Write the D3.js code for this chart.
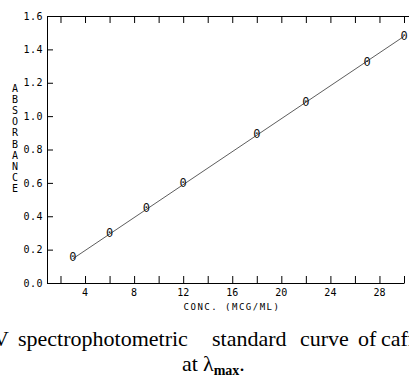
<!DOCTYPE html>
<html>
<head>
<meta charset="utf-8">
<script src="https://cdn.jsdelivr.net/npm/d3@7"></script>
<style>
  body { margin: 0; background: #fff; }
  svg { display: block; }
</style>
</head>
<body>
<svg id="chart" width="409" height="379"></svg>
<script>
// values
const conc = [3, 6, 9, 12, 18, 22, 27, 30];
const absorbance = [0.155, 0.30, 0.45, 0.60, 0.89, 1.085, 1.325, 1.48];
const fitConc = [3, 30];
const fitAbs = [0.145, 1.478];
const xTicks = [2, 4, 6, 8, 10, 12, 14, 16, 18, 20, 22, 24, 26, 28, 30];
const xLabels = [4, 8, 12, 16, 20, 24, 28];
const yTicks = [0, 0.2, 0.4, 0.6, 0.8, 1.0, 1.2, 1.4, 1.6];

const svg = d3.select('#chart');
const mono = 'DejaVu Sans Mono, monospace';
const serif = 'Liberation Serif, Times New Roman, serif';

const x = d3.scaleLinear().domain([0.9, 30]).range([47, 404]);
const y = d3.scaleLinear().domain([0, 1.6]).range([283, 16]);

// bottom axis
svg.append('g')
  .attr('transform', 'translate(0,' + y(0) + ')')
  .call(d3.axisBottom(x).tickValues(xTicks).tickSizeInner(-7).tickSizeOuter(0).tickFormat(''));
svg.append('g').selectAll('text')
  .data(xLabels)
  .enter().append('text')
  .attr('x', function (d) { return x(d); })
  .attr('y', y(0) + 13)
  .attr('text-anchor', 'middle')
  .style('font-family', mono)
  .style('font-size', '10px')
  .text(function (d) { return d; });

// top axis (frame)
svg.append('g')
  .attr('transform', 'translate(0,' + y(1.6) + ')')
  .call(d3.axisTop(x).tickValues(xTicks).tickSizeInner(-7).tickSizeOuter(0).tickFormat(''));
svg.append('line')
  .attr('x1', x(30)).attr('x2', 409)
  .attr('y1', y(1.6) + 0.5).attr('y2', y(1.6) + 0.5)
  .attr('stroke', '#000');

// left axis
const gy = svg.append('g')
  .attr('transform', 'translate(' + x(0.9) + ',0)')
  .call(d3.axisLeft(y).tickValues(yTicks).tickSizeInner(-6).tickSizeOuter(0).tickFormat(d3.format('.1f')));
gy.selectAll('text')
  .attr('x', -4)
  .style('font-family', mono)
  .style('font-size', '10px')
  .style('letter-spacing', '0.5px');

svg.selectAll('.domain, .tick line').attr('stroke', '#000');

// axis titles
const yTitle = 'ABSORBANCE'.split('');
svg.append('g').selectAll('text')
  .data(yTitle)
  .enter().append('text')
  .attr('x', 15)
  .attr('y', function (d, i) { return 92 + i * 11.1; })
  .attr('text-anchor', 'middle')
  .style('font-family', mono)
  .style('font-size', '10px')
  .text(function (d) { return d; });

svg.append('text')
  .attr('x', 232)
  .attr('y', y(0) + 27)
  .attr('text-anchor', 'middle')
  .style('font-family', mono)
  .style('font-size', '9px')
  .style('letter-spacing', '1.5px')
  .text('CONC. (MCG/ML)');

// fitted line
const line = d3.line()
  .x(function (d) { return x(d[0]); })
  .y(function (d) { return y(d[1]); });
svg.append('path')
  .datum(d3.zip(fitConc, fitAbs))
  .attr('d', line)
  .attr('fill', 'none')
  .attr('stroke', '#333')
  .attr('stroke-width', 0.8);

// point markers
svg.append('g').selectAll('text')
  .data(d3.zip(conc, absorbance))
  .enter().append('text')
  .attr('x', function (d) { return x(d[0]); })
  .attr('y', function (d) { return y(d[1]) + 4; })
  .attr('text-anchor', 'middle')
  .style('font-family', mono)
  .style('font-size', '12px')
  .attr('fill', '#111')
  .text('0');

// figure caption (cropped at the page edges, as in the scan)
const cap = svg.append('text')
  .attr('y', 346)
  .style('font-family', serif)
  .style('font-size', '22px');
cap.append('tspan').attr('x', -23).text('UV');
cap.append('tspan').attr('x', 18).text('spectrophotometric');
cap.append('tspan').attr('x', 212).text('standard');
cap.append('tspan').attr('x', 300).text('curve');
cap.append('tspan').attr('x', 358).text('of');
cap.append('tspan').attr('x', 381).text('caffeine');

const cap2 = svg.append('text')
  .attr('y', 371)
  .style('font-family', serif)
  .style('font-size', '22px');
cap2.append('tspan').attr('x', 182).text('at');
cap2.append('tspan').attr('x', 203).text('\u03bb');
cap2.append('tspan').attr('dy', 4).style('font-size', '14px').style('font-weight', 'bold').text('max');
cap2.append('tspan').attr('dy', -4).text('.');
</script>
</body>
</html>
